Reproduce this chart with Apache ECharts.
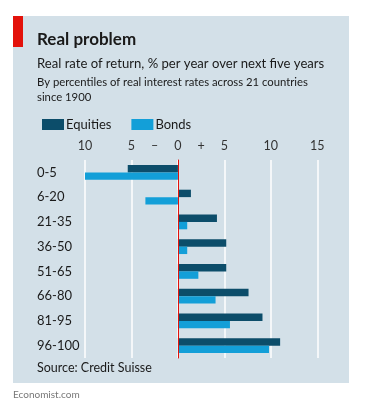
<!DOCTYPE html>
<html><head><meta charset="utf-8">
<script src="https://cdn.jsdelivr.net/npm/echarts@6/dist/echarts.min.js"></script>
<style>html,body{margin:0;padding:0;background:#fff}#c{width:366px;height:410px}</style>
</head><body><div id="c"></div>
<script>
var categories = ['0-5','6-20','21-35','36-50','51-65','66-80','81-95','96-100'];
var equities = [-5.4, 1.4, 4.2, 5.2, 5.2, 7.6, 9.1, 11.0];
var bonds = [-10.0, -3.5, 1.0, 1.0, 2.2, 4.05, 5.6, 9.8];
var tickLabels = {'-10':'10','-5':'5','0':'0','5':'5','10':'10','15':'15'};
var signLabels = {'-2.5':'–','2.5':'+'};

var FONT = 'Lato, "Open Sans", sans-serif';
var chart = echarts.init(document.getElementById('c'), null, {renderer:'canvas'});
chart.setOption({
  animation: false,
  textStyle: {fontFamily: FONT},
  graphic: [
    {type:'rect', shape:{x:13,y:16,width:336,height:367}, style:{fill:'#d3e0e8'}, z:-10},
    {type:'rect', shape:{x:13,y:16,width:10,height:31}, style:{fill:'#e3120b'}, z:-9},
    {type:'text', left:37, top:31, style:{text:'Real problem', font:'bold 17px '+FONT, fill:'#1a1a1a'}},
    {type:'text', left:37, top:57, style:{text:'Real rate of return, % per year over next five years', font:'13.1px '+FONT, fill:'#1a1a1a'}},
    {type:'text', left:37, top:75, style:{text:'By percentiles of real interest rates across 21 countries\nsince 1900', font:'11.3px '+FONT, fill:'#1a1a1a', lineHeight:15}},
    {type:'text', left:37, top:361, style:{text:'Source: Credit Suisse', font:'12.5px '+FONT, fill:'#1a1a1a'}},
    {type:'text', left:13, top:390, style:{text:'Economist.com', font:'10px '+FONT, fill:'#777'}}
  ],
  legend: {
    left: 37, top: 113, icon: 'rect', itemWidth: 22, itemHeight: 11, itemGap: 20,
    textStyle: {fontSize: 13, color:'#1a1a1a', padding:[0,0,0,-3]},
    data: ['Equities','Bonds']
  },
  grid: {left: 85, right: 48.7, top: 160, height: 198, containLabel:false},
  xAxis: [{
    type:'value', min:-10, max:15, interval:5, position:'top',
    axisLine:{show:false}, axisTick:{show:false},
    axisLabel:{fontSize:12.5, color:'#333', margin:8, formatter:function(v){return tickLabels[String(v)]||'';}},
    splitLine:{show:true, lineStyle:{color:'#ffffff', width:1.5}}
  },{
    type:'value', min:-10, max:15, interval:2.5, position:'top',
    axisLine:{show:false}, axisTick:{show:false},
    axisLabel:{fontSize:12.5, color:'#333', margin:8, formatter:function(v){return signLabels[String(v)]||'';}},
    splitLine:{show:false}
  }],
  yAxis: {
    type:'category', inverse:true, data: categories,
    axisLine:{show:true, onZero:true, lineStyle:{color:'#e3120b', width:1}},
    axisTick:{show:false},
    axisLabel:{fontSize:13, color:'#1a1a1a', align:'left', margin:48},
    z: 5
  },
  series: [
    {name:'Equities', type:'bar', data: equities, itemStyle:{color:'#0c4d6a'}, barGap:'0%', barCategoryGap:'40%'},
    {name:'Bonds', type:'bar', data: bonds, itemStyle:{color:'#139fd8'}, barGap:'0%', barCategoryGap:'40%'}
  ]
});
</script></body></html>
